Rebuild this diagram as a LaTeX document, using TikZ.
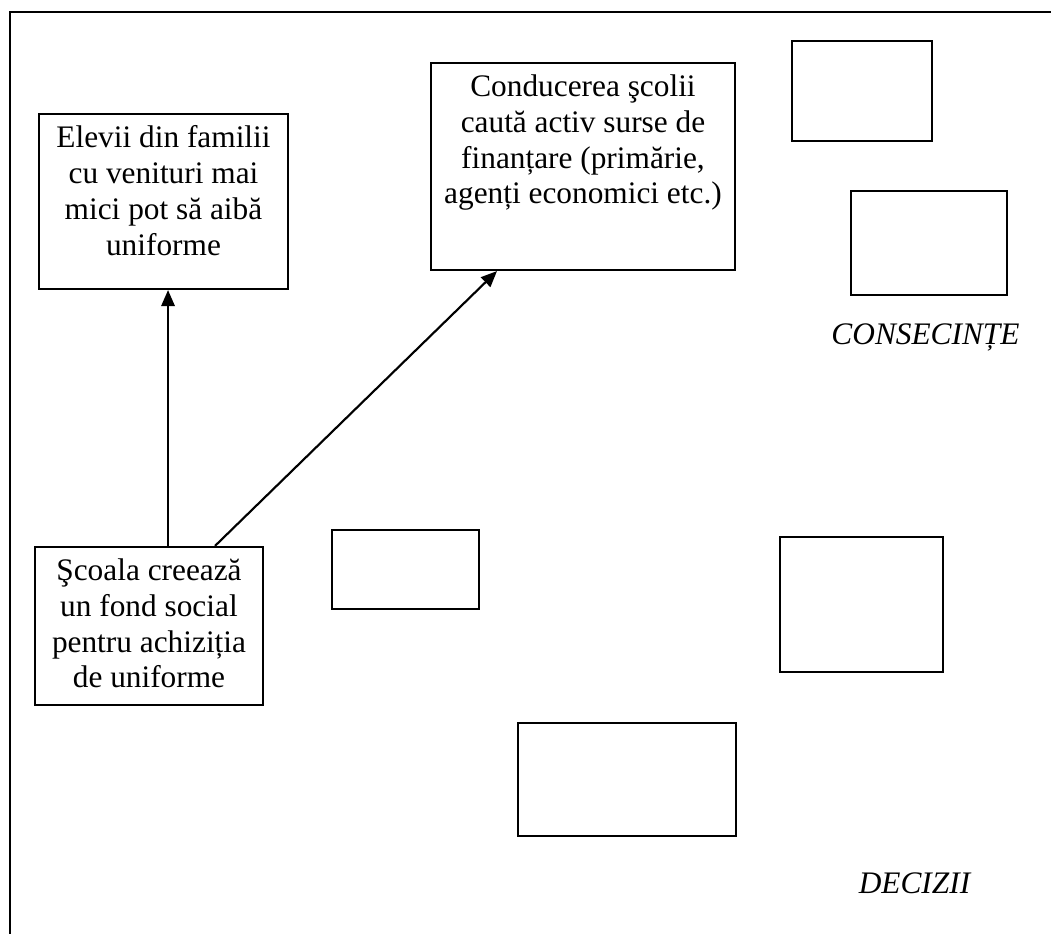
\documentclass[tikz,border=0pt]{standalone}
\usepackage{fontspec}
\setmainfont{Liberation Serif}
\usetikzlibrary{arrows.meta}

\begin{document}
\begin{tikzpicture}[x=0.75pt,y=0.75pt,yscale=-1,xscale=1,
  box/.style={draw, line width=1.6pt, inner sep=0pt},
  txt/.style={align=center, inner sep=0pt, anchor=north, font=\fontsize{23.5}{26.8}\selectfont},
  lbl/.style={anchor=base, inner sep=0pt, font=\fontsize{23.5}{26.8}\selectfont\itshape},
  arr/.style={line width=1.6pt, -{Triangle[length=12pt,width=10pt]}}]
\useasboundingbox (0,0) rectangle (1051,934);

%Shape: Frame
\draw [line width=1.6pt]  (1051,12) -- (10,12) -- (10,934) ;

%Shape: Rectangle
\node [box, minimum width=186.75pt, minimum height=131.25pt] (elevii) at (163.5,201.5) {};
%Shape: Rectangle
\node [box, minimum width=228pt, minimum height=155.25pt] (conducerea) at (583,166.5) {};
%Shape: Rectangle
\node [box, minimum width=171pt, minimum height=118.5pt] (scoala) at (149,626) {};
%Shape: Rectangle
\node [box, minimum width=110.25pt, minimum height=59.25pt] (decizie1) at (405.5,569.5) {};
%Shape: Rectangle
\node [box, minimum width=122.25pt, minimum height=101.25pt] (decizie2) at (861.5,604.5) {};
%Shape: Rectangle
\node [box, minimum width=163.5pt, minimum height=84.75pt] (decizie3) at (627,779.5) {};
%Shape: Rectangle
\node [box, minimum width=105pt, minimum height=75pt] (consecinta1) at (862,91) {};
%Shape: Rectangle
\node [box, minimum width=117pt, minimum height=78pt] (consecinta2) at (929,243) {};

%Straight Lines
\draw [arr] ([xshift=3.4pt]elevii.south |- scoala.north) -- ([xshift=3.4pt]elevii.south) ;
%Straight Lines
\draw [arr] ([xshift=49.5pt]scoala.north) -- ([xshift=-64.5pt]conducerea.south) ;

% Text Node
\node [txt, yshift=-9.5pt] (elevii-t) at (elevii.north) {Elevii din familii\\cu venituri mai\\mici pot să aibă\\uniforme};
% Text Node
\node [txt, yshift=-9.5pt] (conducerea-t) at (conducerea.north) {Conducerea şcolii\\caută activ surse de\\finanțare (primărie,\\agenți economici etc.)};
% Text Node
\node [txt, yshift=-9.5pt] (scoala-t) at (scoala.north) {Şcoala creează\\un fond social\\pentru achiziția\\de uniforme};
% Text Node
\node [lbl] (consecinte) at (925.5,345) {CONSECINȚE};
% Text Node
\node [lbl] (decizii) at (914.5,893) {DECIZII};

\end{tikzpicture}
\end{document}
